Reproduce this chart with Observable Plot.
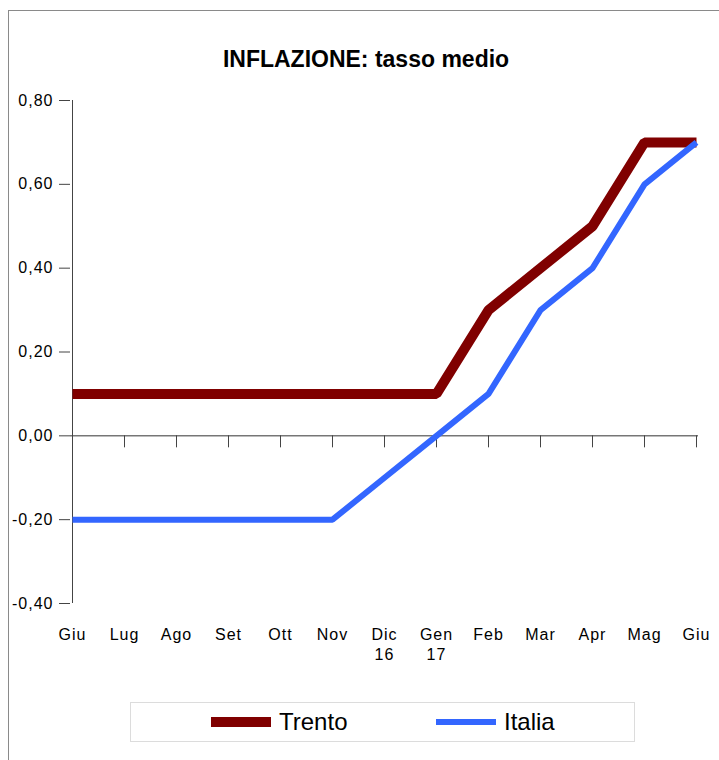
<!DOCTYPE html>
<html>
<head>
<meta charset="utf-8">
<script src="https://cdn.jsdelivr.net/npm/d3@7"></script>
<script src="https://cdn.jsdelivr.net/npm/@observablehq/plot@0.6"></script>
<style>
  html, body { margin: 0; padding: 0; background: #fff; }
  #wrap { position: relative; width: 719px; height: 760px; overflow: hidden; font-family: "Liberation Sans", Arial, sans-serif; }
  #frame { position: absolute; left: 8px; top: 10px; width: 900px; height: 900px; border: 1px solid #8a8a8a; box-sizing: border-box; }
  #title { position: absolute; left: 0; top: 48px; width: 732px; text-align: center; font-size: 23px; line-height: 23px; font-weight: bold; color: #000; }
  #chart { position: absolute; left: 0; top: 0; }
  #chart text { letter-spacing: 1px; }
  #legend { position: absolute; left: 130px; top: 702px; width: 505px; height: 40px; border: 1px solid #dcdcdc; box-sizing: border-box; }
  .sw { position: absolute; }
  .lt { position: absolute; font-size: 24px; line-height: 24px; color: #000; }
</style>
</head>
<body>
<div id="wrap">
  <div id="frame"></div>
  <div id="chart"></div>
  <div id="title">INFLAZIONE: tasso medio</div>
  <div id="legend"></div>
</div>
<script>
const months = ["Giu","Lug","Ago","Set","Ott","Nov","Dic\n16","Gen\n17","Feb","Mar","Apr","Mag","Giu"];
const trento = [0.1,0.1,0.1,0.1,0.1,0.1,0.1,0.1,0.3,0.4,0.5,0.7,0.7];
const italia = [-0.2,-0.2,-0.2,-0.2,-0.2,-0.2,-0.1,0,0.1,0.3,0.4,0.6,0.7];
const yTicks = [-0.4,-0.2,0,0.2,0.4,0.6,0.8];
const seriesNames = ["Trento","Italia"];
const seriesColors = ["#800000","#3366ff"];
const seriesWidths = [10, 6];

const idx = d3.range(months.length);
const fmt = d => d.toFixed(2).replace(".", ",");

const chart = Plot.plot({
  width: 719,
  height: 680,
  marginTop: 100,
  marginBottom: 77,
  marginLeft: 70,
  marginRight: 21,
  style: {fontFamily: "Liberation Sans, Arial, sans-serif", fontSize: "16px", color: "#000", background: "transparent"},
  x: {type: "point", domain: idx, padding: 0, label: null},
  y: {domain: [-0.4, 0.8], label: null},
  marks: [
    Plot.axisY({ticks: yTicks, tickFormat: fmt, tickSize: 11, tickPadding: 6, stroke: "#444", fill: "#000", label: null}),
    Plot.ruleX([0], {stroke: "#444", strokeWidth: 1}),
    Plot.ruleY([0], {stroke: "#333", strokeWidth: 1}),
    Plot.ruleX(idx, {x: d => d, y1: 0, y2: 0, insetBottom: -12, stroke: "#444", strokeWidth: 1}),
    Plot.axisX({tickSize: 0, tickPadding: 22, tickFormat: i => months[i], lineHeight: 1.25, fill: "#000", label: null}),
    Plot.line(idx, {x: d => d, y: d => trento[d], stroke: seriesColors[0], strokeWidth: seriesWidths[0], strokeLinejoin: "miter", strokeLinecap: "butt"}),
    Plot.line(idx, {x: d => d, y: d => italia[d], stroke: seriesColors[1], strokeWidth: seriesWidths[1], strokeLinejoin: "miter", strokeLinecap: "butt"})
  ]
});
document.getElementById("chart").appendChild(chart);

// legend
const legend = document.getElementById("legend");
const swX = [80, 305];
seriesNames.forEach((name, i) => {
  const sw = document.createElement("div");
  sw.className = "sw";
  sw.style.left = swX[i] + "px";
  sw.style.width = "60px";
  sw.style.height = seriesWidths[i] + "px";
  sw.style.top = (19 - seriesWidths[i] / 2) + "px";
  sw.style.background = seriesColors[i];
  legend.appendChild(sw);
  const t = document.createElement("div");
  t.className = "lt";
  t.style.left = (swX[i] + 68) + "px";
  t.style.top = "7px";
  t.textContent = name;
  legend.appendChild(t);
});
</script>
</body>
</html>
